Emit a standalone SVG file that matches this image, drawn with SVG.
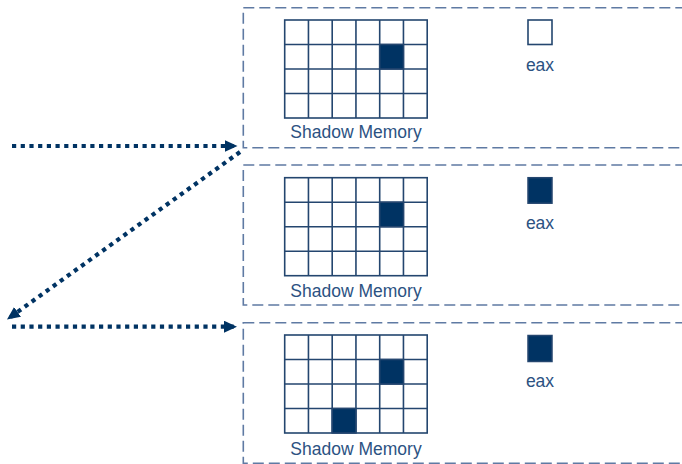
<svg xmlns="http://www.w3.org/2000/svg" width="682" height="464" viewBox="0 0 682 464">
<style>
.frame{fill:none;stroke:#5f7aa3;stroke-width:1.6;stroke-dasharray:11 5}
.cell{fill:#ffffff;stroke:#24466f;stroke-width:1.6}
.on{fill:#003363;stroke:#24466f;stroke-width:1.5}
.lbl{font-family:"Liberation Sans",Arial,sans-serif;font-size:17.5px;fill:#2c5282;text-anchor:middle}
.conn{fill:none;stroke:#003363;stroke-width:4.2;stroke-dasharray:4.2 4.5}
</style>
<defs>
<marker id="ah" markerUnits="userSpaceOnUse" markerWidth="14" markerHeight="13" refX="13" refY="6" orient="auto">
<path d="M0,0 L13,6 L0,12 z" fill="#003363"/>
</marker>
<g id="grid">
<rect x="0" y="0" width="142.5" height="98" class="cell"/>
<path d="M23.75,0V98M47.5,0V98M71.25,0V98M95,0V98M118.75,0V98M0,24.5H142.5M0,49H142.5M0,73.5H142.5" fill="none" stroke="#24466f" stroke-width="1.6"/>
</g>
</defs>
<g id="state1">
<rect class="frame" x="243.3" y="7.7" width="460" height="140"/>
<use href="#grid" x="284.7" y="20"/>
<rect class="on" x="379.7" y="44.5" width="23.75" height="24.5"/>
<text class="lbl" x="356" y="138">Shadow Memory</text>
<rect class="cell" x="528" y="20" width="24" height="24.5"/>
<text class="lbl" x="540" y="71">eax</text>
</g>
<g id="state2">
<rect class="frame" x="243.3" y="165" width="460" height="140"/>
<use href="#grid" x="284.7" y="177.7"/>
<rect class="on" x="379.7" y="202.2" width="23.75" height="24.5"/>
<text class="lbl" x="356" y="296.5">Shadow Memory</text>
<rect class="on" x="528" y="177.7" width="24" height="25.5"/>
<text class="lbl" x="540" y="229">eax</text>
</g>
<g id="state3">
<rect class="frame" x="243.3" y="322.8" width="460" height="140.5"/>
<use href="#grid" x="284.7" y="335"/>
<rect class="on" x="379.7" y="359.5" width="23.75" height="24.5"/>
<rect class="on" x="332.2" y="408.5" width="23.75" height="24.5"/>
<text class="lbl" x="356" y="455">Shadow Memory</text>
<rect class="on" x="528" y="335.5" width="24" height="26"/>
<text class="lbl" x="540" y="386.7">eax</text>
</g>
<g id="connectors">
<line class="conn" x1="12" y1="146" x2="237.5" y2="146" marker-end="url(#ah)"/>
<line class="conn" x1="240" y1="152" x2="7" y2="319.5" marker-end="url(#ah)"/>
<line class="conn" x1="12" y1="326.7" x2="237" y2="326.7" marker-end="url(#ah)"/>
</g>
</svg>
